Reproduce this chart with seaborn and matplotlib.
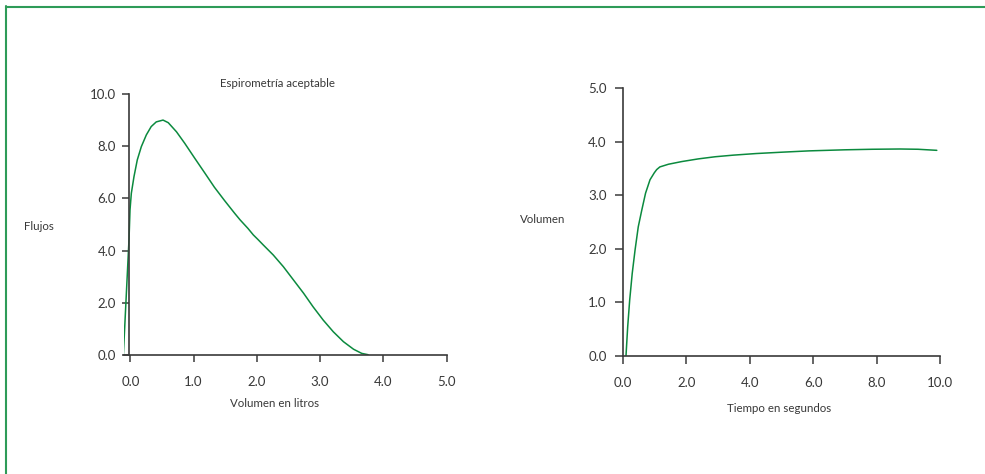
import matplotlib
matplotlib.use("Agg")
import matplotlib.pyplot as plt
from matplotlib.lines import Line2D
import pandas as pd
import seaborn as sns

# Flow-volume loop (expiratory limb): volume in litres vs flow
loop_volume = [-0.11, -0.02, -0.005, 0.016, 0.058, 0.11, 0.174, 0.253, 0.33,
               0.41, 0.517, 0.6, 0.73, 0.86, 1.02, 1.18, 1.33, 1.49, 1.65,
               1.735, 1.86, 1.945, 2.02, 2.10, 2.26, 2.42, 2.58, 2.74, 2.89,
               3.05, 3.21, 3.37, 3.53, 3.66, 3.76]
loop_flow = [0.0, 4.47, 5.56, 6.2, 6.84, 7.48, 7.99, 8.44, 8.76,
             8.94, 9.01, 8.91, 8.56, 8.12, 7.54, 6.97, 6.43, 5.92, 5.43,
             5.18, 4.85, 4.6, 4.42, 4.22, 3.83, 3.38, 2.87, 2.36, 1.84,
             1.33, 0.88, 0.50, 0.21, 0.05, 0.0]

# Volume-time curve
curve_time = [0.104, 0.157, 0.22, 0.30, 0.39, 0.49, 0.6, 0.72, 0.86, 0.995,
              1.07, 1.17, 1.44, 1.86, 2.38, 2.91, 3.48, 4.2, 5.0, 5.87,
              7.0, 7.85, 8.73, 9.3, 9.89]
curve_volume = [0.0, 0.54, 1.04, 1.54, 1.98, 2.41, 2.72, 3.04, 3.29, 3.42,
                3.48, 3.53, 3.58, 3.63, 3.68, 3.72, 3.75, 3.78, 3.805, 3.83,
                3.85, 3.86, 3.865, 3.86, 3.84]

left_xticks = [0.0, 1.0, 2.0, 3.0, 4.0, 5.0]
left_yticks = [0.0, 2.0, 4.0, 6.0, 8.0, 10.0]
right_xticks = [0.0, 2.0, 4.0, 6.0, 8.0, 10.0]
right_yticks = [0.0, 1.0, 2.0, 3.0, 4.0, 5.0]

GREEN = "#0b8a3e"
AXIS = "#3a3a3a"
TEXT = "#383838"

sns.set_theme(style="ticks")
plt.rcParams["font.family"] = ["Lato", "DejaVu Sans"]

W, H = 985, 474
fig = plt.figure(figsize=(W / 100, H / 100), dpi=100)
fig.patch.set_facecolor("white")


def px_axes(x0, x1, y_top, y_bot):
    return fig.add_axes([x0 / W, 1 - y_bot / H, (x1 - x0) / W, (y_bot - y_top) / H])


def style(ax, xticks, yticks, xpad, ypad, tlen):
    sns.despine(ax=ax)
    for side in ("left", "bottom"):
        ax.spines[side].set_color(AXIS)
        ax.spines[side].set_linewidth(1.2)
    ax.set_xticks(xticks)
    ax.set_yticks(yticks)
    ax.set_xticklabels([f"{v:.1f}" for v in xticks])
    ax.set_yticklabels([f"{v:.1f}" for v in yticks])
    ax.tick_params(axis="both", colors=AXIS, width=1.1, length=tlen,
                   labelsize=9.5, labelcolor=TEXT, direction="out")
    ax.tick_params(axis="x", pad=xpad)
    ax.tick_params(axis="y", pad=ypad)
    ax.set_facecolor("white")
    ax.grid(False)


# Left panel: flow-volume
ax1 = px_axes(124, 446.5, 94.3, 354.7)
df1 = pd.DataFrame({"Volumen": loop_volume, "Flujo": loop_flow})
sns.lineplot(data=df1, x="Volumen", y="Flujo", ax=ax1, color=GREEN,
             linewidth=1.1, sort=False, estimator=None)
ax1.set_xlim(-0.1, 5.0)
ax1.set_ylim(0, 10.0)
ax1.spines["left"].set_position(("data", -0.025))
style(ax1, left_xticks, left_yticks, xpad=10, ypad=4, tlen=5)
ax1.set_xlabel("Volumen en litros", fontsize=8.3, color=TEXT, va="center")
ax1.xaxis.set_label_coords(0.468, -0.189)
ax1.set_ylabel("Flujos", fontsize=8.3, color=TEXT, rotation=0,
               ha="center", va="center")
ax1.yaxis.set_label_coords(-0.264, 0.494)
ax1.text(0.477, 1.04, "Espirometría aceptable", transform=ax1.transAxes,
         ha="center", va="center", fontsize=8.3, color=TEXT)

# Right panel: volume-time
ax2 = px_axes(622.7, 940.3, 88.3, 355.7)
df2 = pd.DataFrame({"Tiempo": curve_time, "Volumen": curve_volume})
sns.lineplot(data=df2, x="Tiempo", y="Volumen", ax=ax2, color=GREEN,
             linewidth=1.1, sort=False, estimator=None)
ax2.set_xlim(0, 10.0)
ax2.set_ylim(0, 5.0)
style(ax2, right_xticks, right_yticks, xpad=10, ypad=6, tlen=5.5)
ax2.set_xlabel("Tiempo en segundos", fontsize=8.3, color=TEXT, va="center")
ax2.xaxis.set_label_coords(0.492, -0.196)
ax2.set_ylabel("Volumen", fontsize=8.3, color=TEXT, rotation=0,
               ha="center", va="center")
ax2.yaxis.set_label_coords(-0.2525, 0.511)

# Frame lines along the top and left edges
frame_kw = dict(color="#2e9b58", linewidth=1.5, transform=fig.transFigure)
fig.add_artist(Line2D([6.3 / W, 1.0], [1 - 6.7 / H, 1 - 6.7 / H], **frame_kw))
fig.add_artist(Line2D([6.0 / W, 6.0 / W], [0.0, 1 - 6.0 / H], **frame_kw))

fig.savefig("out.png", dpi=100)
